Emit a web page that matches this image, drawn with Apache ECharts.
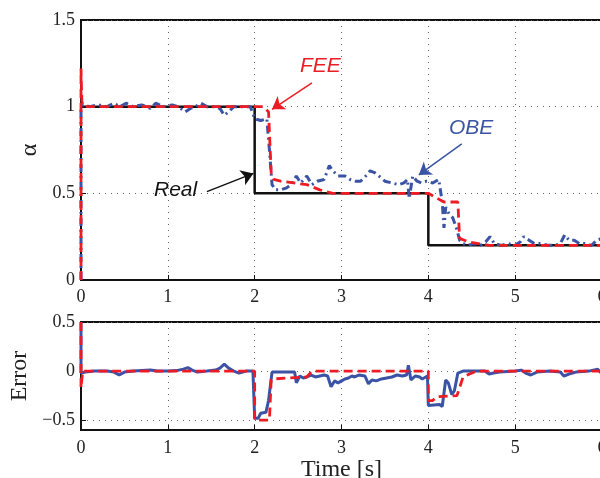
<!DOCTYPE html>
<html>
<head>
<meta charset="utf-8">
<script src="https://cdn.jsdelivr.net/npm/echarts@6/dist/echarts.min.js"></script>
<style>
  html, body { margin: 0; padding: 0; background: #fff; }
  #main { width: 600px; height: 478px; }
</style>
</head>
<body>
<div id="main"></div>
<script>
// ---- data (time [s], value) ----
const xTicks = [0, 1, 2, 3, 4, 5, 6];
const alphaTicks = [0, 0.5, 1, 1.5];
const errTicks = [-0.5, 0, 0.5];

const realAlpha = [[0, 1], [2, 1], [2, 0.5], [4, 0.5], [4, 0.2], [6, 0.2]];

const feeAlpha = [[0, 0], [0, 1.22], [0.01, 1.03], [0.03, 1.0], [2.1, 1.0], [2.16, 0.97],
  [2.19, 0.62], [2.22, 0.58], [2.3, 0.57], [2.45, 0.56], [2.6, 0.55], [2.75, 0.52],
  [2.9, 0.5], [4.0, 0.5], [4.18, 0.45], [4.34, 0.45], [4.36, 0.24], [4.46, 0.22],
  [4.7, 0.2], [6, 0.2]];

const obeAlpha = [[0, 0], [0, 0.98], [0.02, 1.01], [0.1, 1.0], [0.2, 1.01], [0.3, 1.0],
  [0.38, 1.02], [0.45, 1.0], [0.52, 1.02], [0.6, 1.0], [0.7, 1.01], [0.8, 0.99],
  [0.86, 1.02], [0.95, 1.0], [1.05, 1.01], [1.12, 1.0], [1.2, 0.97], [1.26, 0.99],
  [1.32, 1.0], [1.38, 1.02], [1.45, 1.0], [1.52, 1.0], [1.6, 0.99], [1.65, 0.95],
  [1.7, 0.97], [1.76, 1.0], [1.85, 1.0], [1.95, 1.0], [2.0, 0.93], [2.07, 0.92],
  [2.14, 0.93], [2.17, 0.75], [2.2, 0.55], [2.24, 0.52], [2.3, 0.52], [2.36, 0.53],
  [2.42, 0.55], [2.48, 0.6], [2.53, 0.56], [2.6, 0.6], [2.66, 0.55], [2.72, 0.57],
  [2.8, 0.58], [2.86, 0.66], [2.9, 0.63], [2.96, 0.6], [3.04, 0.6], [3.1, 0.58],
  [3.16, 0.57], [3.22, 0.57], [3.28, 0.6], [3.33, 0.63], [3.38, 0.62], [3.43, 0.6],
  [3.5, 0.57], [3.58, 0.56], [3.66, 0.55], [3.72, 0.56], [3.76, 0.58], [3.78, 0.47],
  [3.82, 0.6], [3.87, 0.57], [3.92, 0.56], [3.98, 0.57], [4.05, 0.56], [4.12, 0.58],
  [4.16, 0.45], [4.18, 0.3], [4.2, 0.42], [4.24, 0.38], [4.28, 0.36], [4.33, 0.29],
  [4.36, 0.23], [4.4, 0.21], [4.46, 0.2], [4.52, 0.21], [4.6, 0.2], [4.66, 0.22],
  [4.71, 0.25], [4.76, 0.21], [4.84, 0.2], [4.92, 0.21], [5.0, 0.2], [5.06, 0.22],
  [5.1, 0.25], [5.16, 0.23], [5.22, 0.21], [5.3, 0.21], [5.38, 0.2], [5.46, 0.2],
  [5.52, 0.21], [5.57, 0.26], [5.62, 0.23], [5.68, 0.23], [5.74, 0.21], [5.8, 0.21],
  [5.88, 0.2], [5.94, 0.23], [6.0, 0.24]];

const feeErr = [[0, 0.5], [0, -0.17], [0.02, 0], [2, 0], [2, -0.5], [2.17, -0.5],
  [2.19, -0.09], [2.22, -0.08], [2.38, -0.07], [2.6, -0.06], [2.66, 0], [4, 0],
  [4, -0.3], [4.05, -0.3], [4.1, -0.26], [4.33, -0.25], [4.4, -0.06], [4.55, 0], [6, 0]];

const obeErr = [[0, 0.5], [0, -0.02], [0.05, -0.01], [0.15, 0], [0.3, 0], [0.38, -0.01],
  [0.44, -0.04], [0.5, -0.01], [0.6, 0], [0.7, 0.005], [0.8, 0.01], [0.88, 0], [1.0, 0],
  [1.1, 0.005], [1.18, 0.02], [1.23, 0.035], [1.28, 0.01], [1.34, -0.01], [1.45, 0],
  [1.55, 0.01], [1.6, 0.03], [1.65, 0.07], [1.7, 0.03], [1.76, 0], [1.82, -0.02],
  [1.9, 0], [1.98, 0], [2.0, -0.48], [2.04, -0.48], [2.07, -0.43], [2.13, -0.42],
  [2.16, -0.3], [2.2, -0.01], [2.3, -0.01], [2.46, -0.01], [2.48, -0.12], [2.52, -0.05],
  [2.56, -0.07], [2.6, -0.06], [2.65, -0.04], [2.7, -0.06], [2.75, -0.05], [2.8, -0.04],
  [2.84, -0.05], [2.88, -0.16], [2.92, -0.1], [2.96, -0.12], [3.0, -0.1], [3.04, -0.08],
  [3.08, -0.07], [3.12, -0.05], [3.15, -0.06], [3.2, -0.04], [3.27, -0.05], [3.31, -0.13],
  [3.35, -0.09], [3.4, -0.1], [3.46, -0.08], [3.52, -0.07], [3.58, -0.06], [3.64, -0.04],
  [3.7, -0.05], [3.75, -0.04], [3.77, 0.06], [3.8, -0.09], [3.85, -0.05], [3.9, -0.06],
  [3.93, -0.08], [3.99, -0.05], [4.0, -0.35], [4.13, -0.34],
  [4.16, -0.36], [4.2, -0.09], [4.23, -0.12], [4.27, -0.24], [4.3, -0.2], [4.34, -0.02],
  [4.4, 0], [4.65, 0], [4.7, -0.03], [4.75, -0.02], [4.82, -0.01], [5.0, 0], [5.07, 0.01],
  [5.12, -0.02], [5.18, -0.04], [5.25, -0.01], [5.4, 0], [5.52, -0.01], [5.56, -0.05],
  [5.62, -0.03], [5.7, -0.01], [5.85, 0], [5.95, 0.02], [6, -0.03]];

const RED = "#ed1c24";
const BLUE = "#3a53a4";
const BLACK = "#111";
const SERIF = "Liberation Serif";

const chart = echarts.init(document.getElementById("main"));

// common axis styling (matlab look)
function xAxisOf(gridIndex, labelMargin, name) {
  return {
    type: "value",
    gridIndex: gridIndex,
    min: 0,
    max: 6,
    interval: 1,
    name: name || "",
    nameLocation: "middle",
    nameGap: 25,
    nameTextStyle: { fontFamily: SERIF, fontSize: 24, color: "#222" },
    axisLine: { show: true, onZero: false, lineStyle: { color: BLACK, width: 2 } },
    axisTick: { show: true, inside: true, length: 5, lineStyle: { color: BLACK } },
    axisLabel: { margin: labelMargin, fontFamily: SERIF, fontSize: 18, color: "#222",
      showMaxLabel: true },
    splitLine: { show: true, lineStyle: { color: "#666", width: 1, type: [1, 5] } },
  };
}

function yAxisOf(gridIndex, min, max, ticks, name, gap) {
  return {
    type: "value",
    gridIndex: gridIndex,
    min: min,
    max: max,
    name: name,
    nameLocation: "middle",
    nameGap: gap,
    nameTextStyle: { fontFamily: SERIF, fontSize: 24, color: "#222" },
    axisLine: { show: true, onZero: false, lineStyle: { color: BLACK, width: 2 } },
    axisTick: { show: true, inside: true, length: 5, customValues: ticks,
      lineStyle: { color: BLACK } },
    axisLabel: { margin: 6, fontFamily: SERIF, fontSize: 18, color: "#222",
      customValues: ticks,
      formatter: (v) => String(v).replace("-", "\u2212") },
    splitLine: { show: true, lineStyle: { color: "#666", width: 1, type: [1, 5] } },
  };
}

const option = {
  animation: false,
  backgroundColor: "#fff",
  grid: [
    { left: 81, top: 20, width: 521, height: 260, show: true, borderColor: BLACK, borderWidth: 2,
      outerBoundsMode: "none" },
    { left: 81, top: 322, width: 521, height: 108, show: true, borderColor: BLACK, borderWidth: 2,
      outerBoundsMode: "none" },
  ],
  xAxis: [xAxisOf(0, 8), xAxisOf(1, 9, "Time [s]")],
  yAxis: [
    yAxisOf(0, 0, 1.5, alphaTicks, "\u03b1", 36),
    yAxisOf(1, -0.6, 0.5, errTicks, "Error", 44),
  ],
  series: [
    {
      name: "Real",
      type: "line",
      xAxisIndex: 0,
      yAxisIndex: 0,
      data: realAlpha,
      showSymbol: false,
      clip: false,
      lineStyle: { color: BLACK, width: 2.5 },
      z: 2,
      markLine: {
        silent: true,
        symbol: ["none", "arrow"],
        symbolSize: 12,
        label: { show: false },
        lineStyle: { width: 1.5, type: "solid" },
        data: [
          [{ coord: [1.45, 0.51], lineStyle: { color: BLACK }, itemStyle: { color: BLACK } },
            { coord: [1.985, 0.615] }],
          [{ coord: [2.66, 1.137], lineStyle: { color: RED }, itemStyle: { color: RED } },
            { coord: [2.2, 0.985] }],
          [{ coord: [4.385, 0.785], lineStyle: { color: BLUE }, itemStyle: { color: BLUE } },
            { coord: [3.89, 0.606] }],
        ],
      },
    },
    {
      name: "OBE",
      type: "line",
      xAxisIndex: 0,
      yAxisIndex: 0,
      data: obeAlpha,
      showSymbol: false,
      clip: false,
      lineStyle: { color: BLUE, width: 3, type: [8, 4, 2, 4] },
      z: 3,
    },
    {
      name: "FEE",
      type: "line",
      xAxisIndex: 0,
      yAxisIndex: 0,
      data: feeAlpha,
      showSymbol: false,
      clip: false,
      lineStyle: { color: RED, width: 2.8, type: [9, 5] },
      z: 4,
    },
    {
      name: "OBE error",
      type: "line",
      xAxisIndex: 1,
      yAxisIndex: 1,
      data: obeErr,
      showSymbol: false,
      clip: false,
      lineStyle: { color: BLUE, width: 3 },
      z: 3,
    },
    {
      name: "FEE error",
      type: "line",
      xAxisIndex: 1,
      yAxisIndex: 1,
      data: feeErr,
      showSymbol: false,
      clip: false,
      lineStyle: { color: RED, width: 2.8, type: [9, 5] },
      z: 4,
    },
  ],
  graphic: [
    { type: "text", left: 300, top: 56,
      style: { text: "FEE", fill: RED, font: "italic 21px 'Liberation Sans'" } },
    { type: "text", left: 449, top: 118,
      style: { text: "OBE", fill: BLUE, font: "italic 21px 'Liberation Sans'" } },
    { type: "text", left: 154, top: 180,
      style: { text: "Real", fill: BLACK, font: "italic 21px 'Liberation Sans'" } },
  ],
};

chart.setOption(option);
</script>
</body>
</html>
